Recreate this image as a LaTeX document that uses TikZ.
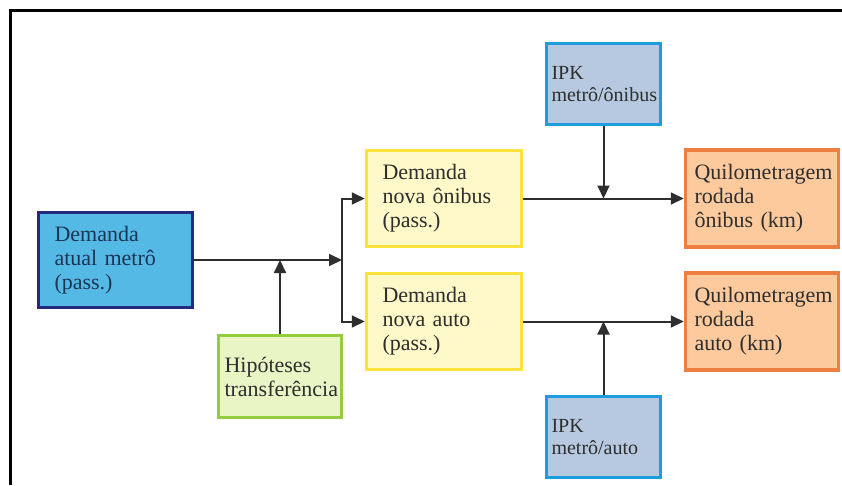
\documentclass[tikz,border=0pt]{standalone}
\usepackage{fontspec}
\setmainfont{Liberation Serif}
\usetikzlibrary{arrows.meta}
\definecolor{Tinta}{HTML}{2E2E2E}
\definecolor{AzulFundo}{HTML}{55B9E6}
\definecolor{AzulBorda}{HTML}{262A7C}
\definecolor{AzulTexto}{HTML}{1B3555}
\definecolor{VerdeFundo}{HTML}{EAF5C6}
\definecolor{VerdeBorda}{HTML}{93CD3E}
\definecolor{AmareloFundo}{HTML}{FFF8C8}
\definecolor{AmareloBorda}{HTML}{FFE33C}
\definecolor{IpkFundo}{HTML}{B6C9E0}
\definecolor{IpkBorda}{HTML}{1E9CE0}
\definecolor{LaranjaFundo}{HTML}{FDCA9E}
\definecolor{LaranjaBorda}{HTML}{EE7E42}
\newcommand{\Bloco}[5]{%
  \node[caixa,#4] (#1) at (#2,#3) {#5};%
}

\begin{document}
\begin{tikzpicture}[x=1pt,y=-1pt,
  caixa/.style={draw,line width=3.5pt,align=left,inner sep=0pt,
    font=\fontsize{22}{24}\selectfont,text=Tinta},
  demanda/.style={fill=AmareloFundo,draw=AmareloBorda,minimum width=155pt,minimum height=96pt,text width=123pt},
  ipk/.style={fill=IpkFundo,draw=IpkBorda,minimum width=114pt,minimum height=81pt,text width=104pt,
    font=\fontsize{20}{22}\selectfont},
  km/.style={fill=LaranjaFundo,draw=LaranjaBorda,minimum width=153pt,minimum height=97pt,text width=135pt},
  seta/.style={draw=Tinta,line width=2pt,-{Triangle[length=13pt,width=12pt]}}]
\useasboundingbox (0,0) rectangle (842,485);
% moldura
\draw[line width=3pt] (10,485) -- (10,10) -- (842,10);
% blocos
\Bloco{atual}{115.5}{260}{fill=AzulFundo,draw=AzulBorda,text=AzulTexto,minimum width=154pt,minimum height=95pt,text width=122pt}{Demanda\\atual metrô\\(pass.)}
\Bloco{hip}{280}{376.5}{fill=VerdeFundo,draw=VerdeBorda,minimum width=123pt,minimum height=82pt,text width=111pt}{Hipóteses\\transferência}
\Bloco{onibus}{444}{198.5}{demanda}{Demanda\\nova ônibus\\(pass.)}
\Bloco{auto}{444}{321.5}{demanda}{Demanda\\nova auto\\(pass.)}
\Bloco{ipkon}{603.5}{84}{ipk}{IPK\\metrô/ônibus}
\Bloco{ipkau}{603.5}{437}{ipk}{IPK\\metrô/auto}
\Bloco{kmon}{762}{198.5}{km}{Quilometragem\\rodada\\ônibus (km)}
\Bloco{kmau}{762}{321.5}{km}{Quilometragem\\rodada\\auto (km)}
% ligacoes
\coordinate (ramo) at (342,260);
\draw[seta] (atual) -- (ramo);
\draw[seta] (hip) -- (hip |- atual.east);
\draw[seta] (ramo) |- (onibus.west);
\draw[seta] (ramo) |- (auto.west);
\draw[seta] (onibus) -- (kmon);
\draw[seta] (auto) -- (kmau);
\draw[seta] (ipkon) -- (ipkon |- onibus.east);
\draw[seta] (ipkau) -- (ipkau |- auto.east);
\end{tikzpicture}
\end{document}
